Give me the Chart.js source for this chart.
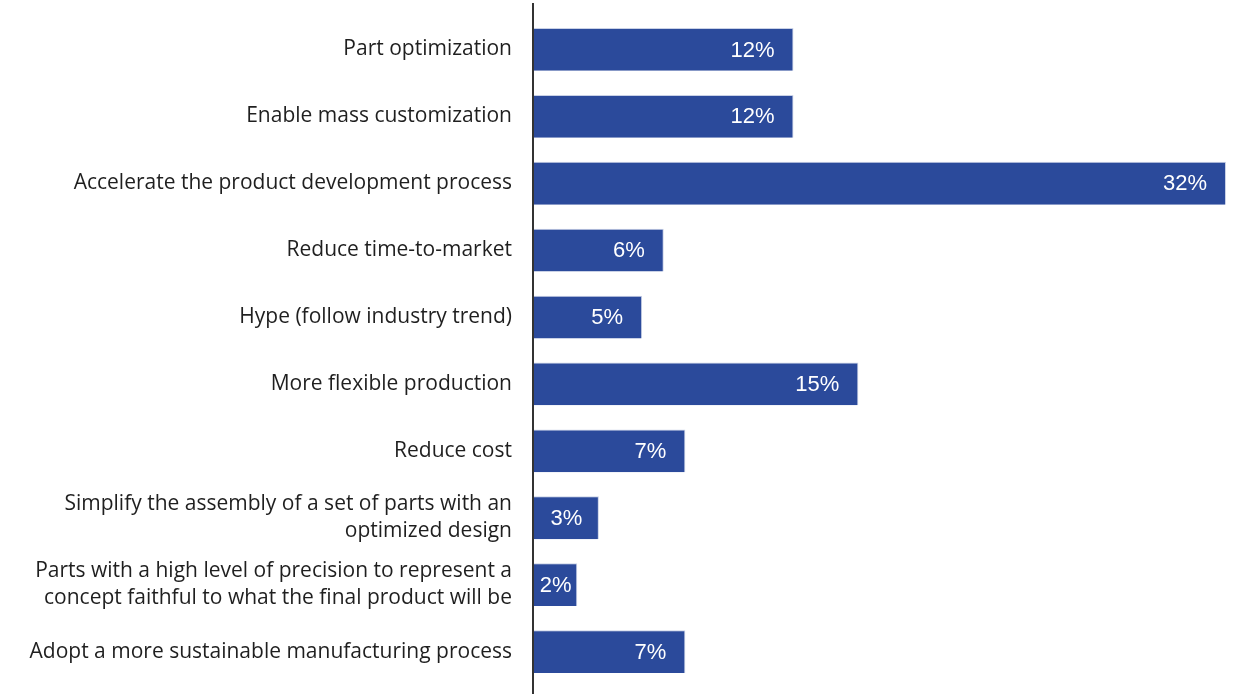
<!DOCTYPE html>
<html>
<head>
<meta charset="utf-8">
<script src="https://cdn.jsdelivr.net/npm/chart.js@4/dist/chart.umd.min.js"></script>
<style>
  html, body { margin: 0; padding: 0; background: #fff; }
  #wrap { width: 1235px; height: 694px; position: relative; }
</style>
</head>
<body>
<div id="wrap"><canvas id="chart"></canvas></div>
<script>
const categories = [
  'Part optimization',
  'Enable mass customization',
  'Accelerate the product development process',
  'Reduce time-to-market',
  'Hype (follow industry trend)',
  'More flexible production',
  'Reduce cost',
  ['Simplify the assembly of a set of parts with an', 'optimized design'],
  ['Parts with a high level of precision to represent a', 'concept faithful to what the final product will be'],
  'Adopt a more sustainable manufacturing process'
];
const shares = [12, 12, 32, 6, 5, 15, 7, 3, 2, 7];

// value labels inside the bar end, centred when the bar is too short
const valueLabels = {
  id: 'valueLabels',
  afterDatasetsDraw(chart) {
    const ctx = chart.ctx;
    const meta = chart.getDatasetMeta(0);
    ctx.save();
    ctx.font = '22px "Liberation Sans", Arial, sans-serif';
    ctx.fillStyle = '#ffffff';
    ctx.textBaseline = 'middle';
    meta.data.forEach((bar, i) => {
      const txt = shares[i] + '%';
      const tw = ctx.measureText(txt).width;
      const left = bar.base, right = bar.x;
      let x;
      if (right - left >= tw + 36) {
        ctx.textAlign = 'right';
        x = right - 19;
      } else {
        ctx.textAlign = 'center';
        x = (left + right) / 2;
      }
      ctx.fillText(txt, x, bar.y + 1);
    });
    ctx.restore();
  }
};

// vertical axis line running the full height
const axisLine = {
  id: 'axisLine',
  afterDatasetsDraw(chart) {
    const ctx = chart.ctx;
    const x = chart.scales.x.getPixelForValue(0);
    ctx.save();
    ctx.strokeStyle = '#333333';
    ctx.lineWidth = 2;
    ctx.beginPath();
    ctx.moveTo(x - 1, 3);
    ctx.lineTo(x - 1, 694);
    ctx.stroke();
    ctx.restore();
  }
};

new Chart(document.getElementById('chart'), {
  type: 'bar',
  data: {
    labels: categories,
    datasets: [{
      data: shares,
      backgroundColor: '#2b4a9b',
      borderColor: '#c9d1e6',
      borderWidth: { top: 1, right: 1, bottom: 0, left: 0 },
      borderSkipped: 'left',
      categoryPercentage: 0.8,
      barPercentage: 0.8
    }]
  },
  options: {
    indexAxis: 'y',
    responsive: true,
    maintainAspectRatio: false,
    animation: false,
    layout: { padding: { top: 16, bottom: 9, right: 9, left: 0 } },
    plugins: {
      legend: { display: false },
      tooltip: { enabled: false }
    },
    scales: {
      x: {
        display: false,
        min: 0,
        max: 32
      },
      y: {
        grid: { display: false, drawTicks: false },
        border: { display: false },
        afterFit(scale) {
          scale.width = 534;
          scale.paddingTop = 0;
          scale.paddingBottom = 0;
        },
        ticks: {
          padding: 22,
          color: '#1f1f1f',
          font: { family: '"Open Sans", "Noto Sans", sans-serif', size: 21, lineHeight: 1.29 }
        }
      }
    }
  },
  plugins: [valueLabels, axisLine]
});
</script>
</body>
</html>
